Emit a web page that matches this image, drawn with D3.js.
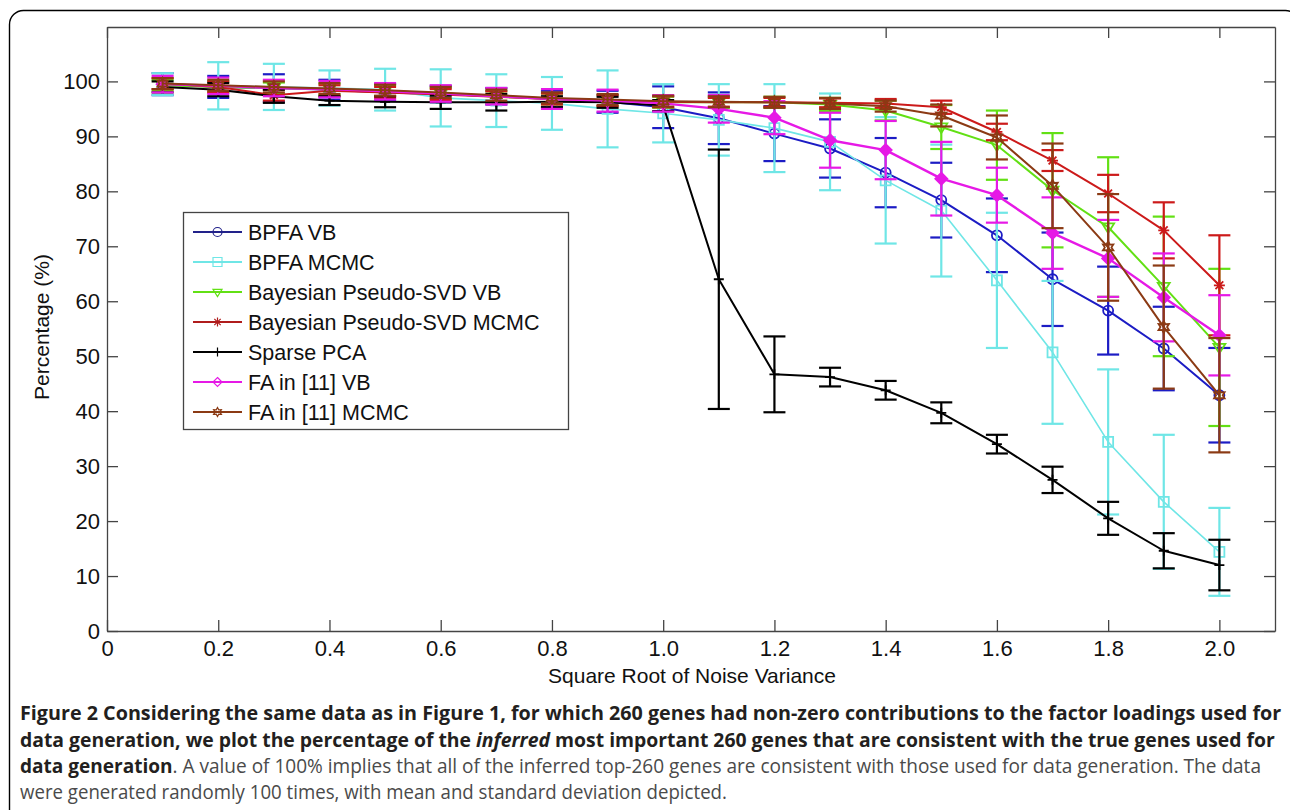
<!DOCTYPE html>
<html>
<head>
<meta charset="utf-8">
<script src="https://cdn.jsdelivr.net/npm/d3@7"></script>
<style>
  html, body { margin: 0; padding: 0; background: #fff; }
  svg { display: block; }
</style>
</head>
<body>
<svg id="chart" width="1290" height="810"></svg>
<script>
// ---------------- DATA ----------------
const noise = [0.1,0.2,0.3,0.4,0.5,0.6,0.7,0.8,0.9,1.0,1.1,1.2,1.3,1.4,1.5,1.6,1.7,1.8,1.9,2.0];

const bpfaVB      = [99.5,99.0,98.8,98.5,98.0,97.7,97.3,96.8,96.3,95.3,93.3,90.5,87.8,83.4,78.4,72.0,64.0,58.3,51.4,42.9];
const bpfaVBsd    = [2.0,2.0,2.5,1.8,1.5,1.5,1.5,1.5,2.0,3.8,4.7,5.0,5.3,6.3,6.8,6.7,8.5,8.0,7.6,8.6];

const bpfaMCMC    = [99.5,99.2,99.0,98.8,98.5,97.0,96.5,96.0,95.0,94.2,93.0,91.5,89.0,82.0,76.5,63.8,50.7,34.4,23.5,14.4];
const bpfaMCMCsd  = [2.0,4.3,4.2,3.2,3.8,5.2,4.8,4.8,7.0,5.3,6.5,8.0,8.8,11.5,12.0,12.3,13.0,13.2,12.2,8.0];

const psvdVB      = [99.3,99.0,98.8,98.6,98.3,97.8,97.2,96.8,96.5,96.2,96.2,96.2,95.8,94.7,91.7,88.4,80.2,73.5,62.7,51.6];
const psvdVBsd    = [1.0,1.0,1.0,1.0,1.0,1.0,1.0,1.0,1.0,1.0,1.0,1.0,1.2,1.8,4.0,6.3,10.4,12.7,12.7,14.3];

const psvdMCMC    = [99.6,99.0,97.5,98.3,98.0,97.6,97.2,96.8,96.5,96.3,96.2,96.2,96.1,96.0,95.3,90.8,85.6,79.6,72.9,62.9];
const psvdMCMCsd  = [1.0,1.0,1.0,1.0,1.0,1.0,1.0,1.0,1.0,1.0,0.8,0.8,0.8,0.8,1.2,1.5,1.9,3.4,5.1,9.1];

const sparsePCA   = [99.0,98.5,97.3,96.5,96.3,96.2,96.2,96.3,96.2,95.6,64.0,46.7,46.2,43.8,39.7,34.0,27.5,20.5,14.6,12.0];
const sparsePCAsd = [1.0,1.2,1.2,0.8,1.0,1.2,1.5,1.0,1.0,1.0,23.6,6.9,1.7,1.7,1.9,1.7,2.4,3.0,3.2,4.6];

const faVB        = [99.5,99.2,98.8,98.6,98.2,97.8,97.3,96.8,96.5,96.0,95.0,93.4,89.3,87.5,82.3,79.3,72.4,67.8,60.7,53.8];
const faVBsd      = [1.5,1.5,1.5,1.5,1.5,1.5,1.5,1.8,2.0,1.5,2.5,3.0,5.0,5.3,6.7,5.0,6.5,7.0,8.0,7.3];

const faMCMC      = [99.6,99.3,99.0,98.7,98.4,98.0,97.5,97.0,96.7,96.4,96.3,96.2,96.0,95.5,93.8,89.8,81.0,69.8,55.3,42.9];
const faMCMCsd    = [1.0,1.0,1.0,1.0,1.0,1.0,1.0,1.0,1.0,1.0,1.0,1.0,1.0,1.0,2.0,4.0,7.7,9.7,11.2,10.4];

const seriesNames = ["BPFA VB","BPFA MCMC","Bayesian Pseudo-SVD VB","Bayesian Pseudo-SVD MCMC","Sparse PCA","FA in [11] VB","FA in [11] MCMC"];
const xTicks = [0,0.2,0.4,0.6,0.8,1.0,1.2,1.4,1.6,1.8,2.0];
const yTicks = [0,10,20,30,40,50,60,70,80,90,100];
const xLabel = "Square Root of Noise Variance";
const yLabel = "Percentage (%)";

// ---------------- STYLE ----------------
const styles = [
  {color:"#1c1cc4", marker:"circle",   width:2},
  {color:"#6fe6e6", marker:"square",   width:1.6},
  {color:"#62e014", marker:"tridown",  width:2},
  {color:"#cc1a1a", marker:"asterisk", width:2},
  {color:"#000000", marker:"plus",     width:2},
  {color:"#e619e6", marker:"diamond",  width:2.4},
  {color:"#8b3a14", marker:"hexagram", width:2}
];
const means = [bpfaVB,bpfaMCMC,psvdVB,psvdMCMC,sparsePCA,faVB,faMCMC];
const sds   = [bpfaVBsd,bpfaMCMCsd,psvdVBsd,psvdMCMCsd,sparsePCAsd,faVBsd,faMCMCsd];
const series = seriesNames.map((n,i)=>({name:n, mean:means[i], sd:sds[i], ...styles[i]}));

const svg = d3.select("#chart");
const W = 1290, H = 810;
const L = 107, R = 1275, T = 27, B = 631;

// outer frame (rounded)
svg.append("rect").attr("x",9.5).attr("y",10.5).attr("width",1290).attr("height",900)
  .attr("rx",14).attr("fill","none").attr("stroke","#000").attr("stroke-width",1.4);

const x = d3.scaleLinear().domain([0,2.1]).range([L,R]);
const y = d3.scaleLinear().domain([0,109.9]).range([B,T]);

const axisColor = "#444";
const tickFont = "Liberation Sans, Arial, sans-serif";

function styleAxis(g){
  g.selectAll("path.domain").attr("stroke",axisColor).attr("stroke-width",1.3);
  g.selectAll(".tick line").attr("stroke",axisColor).attr("stroke-width",1.3);
  g.selectAll(".tick text").attr("fill","#111").style("font-family",tickFont).style("font-size","22px");
}

const fmtX = d => d===0 ? "0" : d.toFixed(1);

svg.append("g").attr("transform",`translate(0,${B})`)
  .call(d3.axisBottom(x).tickValues(xTicks).tickFormat(fmtX).tickSizeInner(-11).tickSizeOuter(0).tickPadding(9))
  .call(styleAxis);
svg.append("g").attr("transform",`translate(0,${T})`)
  .call(d3.axisTop(x).tickValues(xTicks).tickFormat("").tickSizeInner(-11).tickSizeOuter(0))
  .call(styleAxis);
svg.append("g").attr("transform",`translate(${L},0)`)
  .call(d3.axisLeft(y).tickValues(yTicks).tickFormat(d3.format("d")).tickSizeInner(-11).tickSizeOuter(0).tickPadding(7))
  .call(styleAxis);
svg.append("g").attr("transform",`translate(${R},0)`)
  .call(d3.axisRight(y).tickValues(yTicks).tickFormat("").tickSizeInner(-11).tickSizeOuter(0))
  .call(styleAxis);

// axis labels
svg.append("text").attr("x",(x(0)+x(2.1))/2 + 1).attr("y",683)
  .attr("text-anchor","middle").style("font-family",tickFont).style("font-size","21px").attr("fill","#111")
  .text(xLabel);
svg.append("text").attr("transform","translate(49,327) rotate(-90)")
  .attr("text-anchor","middle").style("font-family",tickFont).style("font-size","21px").attr("fill","#111")
  .text(yLabel);

// marker paths
function markerPath(type, s){
  const k = 0.7071*s;
  switch(type){
    case "circle": return `M${s},0A${s},${s} 0 1,1 ${-s},0A${s},${s} 0 1,1 ${s},0Z`;
    case "square": return `M${-s},${-s}H${s}V${s}H${-s}Z`;
    case "tridown": return `M${-s},${-0.6*s}L${s},${-0.6*s}L0,${s}Z`;
    case "asterisk": return `M${-s},0H${s}M0,${-s}V${s}M${-k},${-k}L${k},${k}M${-k},${k}L${k},${-k}`;
    case "plus": return `M${-s},0H${s}M0,${-s}V${s}`;
    case "diamond": return `M0,${-s}L${s},0L0,${s}L${-s},0Z`;
    case "hexagram": {
      const pts = [];
      for (let i=0;i<12;i++){
        const a = -Math.PI/2 + i*Math.PI/6;
        const r = i%2===0 ? s : s*0.55;
        pts.push([r*Math.cos(a), r*Math.sin(a)]);
      }
      return "M" + pts.map(p=>p[0].toFixed(2)+","+p[1].toFixed(2)).join("L") + "Z";
    }
  }
}
const markerSize = {circle:5, square:5, tridown:6, asterisk:5.5, plus:5, diamond:6, hexagram:6};

const plot = svg.append("g");
const cap = 11;
series.forEach(s => {
  const g = plot.append("g");
  const pts = noise.map((n,i)=>({x:n, m:s.mean[i], sd:s.sd[i]}));
  // error bars
  const eb = g.selectAll("g.eb").data(pts).enter().append("g")
    .attr("stroke",s.color).attr("stroke-width",2.2).attr("fill","none");
  eb.append("line").attr("x1",d=>x(d.x)).attr("x2",d=>x(d.x)).attr("y1",d=>y(d.m+d.sd)).attr("y2",d=>y(d.m-d.sd));
  eb.append("line").attr("x1",d=>x(d.x)-cap).attr("x2",d=>x(d.x)+cap).attr("y1",d=>y(d.m+d.sd)).attr("y2",d=>y(d.m+d.sd));
  eb.append("line").attr("x1",d=>x(d.x)-cap).attr("x2",d=>x(d.x)+cap).attr("y1",d=>y(d.m-d.sd)).attr("y2",d=>y(d.m-d.sd));
  // line
  g.append("path").datum(pts)
    .attr("d", d3.line().x(d=>x(d.x)).y(d=>y(d.m)))
    .attr("fill","none").attr("stroke",s.color).attr("stroke-width",s.width).attr("stroke-linejoin","round");
  // markers
  g.selectAll("path.mk").data(pts).enter().append("path")
    .attr("transform",d=>`translate(${x(d.x)},${y(d.m)})`)
    .attr("d", markerPath(s.marker, markerSize[s.marker]))
    .attr("fill", s.marker==="diamond" ? s.color : "none")
    .attr("stroke", s.color).attr("stroke-width", 1.8);
});

// legend
const lg = svg.append("g");
lg.append("rect").attr("x",183.5).attr("y",212.5).attr("width",385).attr("height",217)
  .attr("fill","#fff").attr("stroke","#444").attr("stroke-width",1.3);
const legendColors = ["#22228a","#6fe6e6","#62e014","#b01c1c","#000000","#e619e6","#8b3a14"];
series.forEach((s,i) => {
  const yy = 232 + i*30;
  lg.append("line").attr("x1",193).attr("x2",242).attr("y1",yy).attr("y2",yy)
    .attr("stroke",legendColors[i]).attr("stroke-width",2.2);
  lg.append("path").attr("transform",`translate(217.5,${yy})`)
    .attr("d", markerPath(s.marker, 4.5))
    .attr("fill", "none").attr("stroke", legendColors[i]).attr("stroke-width",1.2);
  lg.append("text").attr("x",248).attr("y",yy).attr("dy","0.36em")
    .style("font-family",tickFont).style("font-size","21.5px").attr("fill","#111").text(s.name);
});

// caption
const capFont = "'Open Sans', 'Noto Sans', sans-serif";
const captionLines = [
  {y:720, w:1262, parts:[{t:"Figure 2 Considering the same data as in Figure 1, for which 260 genes had non-zero contributions to the factor loadings used for", b:true}]},
  {y:746.5, w:1256, parts:[{t:"data generation, we plot the percentage of the ", b:true},{t:"inferred", b:true, i:true},{t:" most important 260 genes that are consistent with the true genes used for", b:true}]},
  {y:773, w:1242, parts:[{t:"data generation", b:true},{t:". A value of 100% implies that all of the inferred top-260 genes are consistent with those used for data generation. The data", b:false}]},
  {y:799, w:707, parts:[{t:"were generated randomly 100 times, with mean and standard deviation depicted.", b:false}]}
];
captionLines.forEach(line => {
  const t = svg.append("text").attr("x",0).attr("y",0)
    .style("font-family",capFont).style("font-size","20px").attr("xml:space","preserve");
  line.parts.forEach(p => {
    t.append("tspan").text(p.t)
      .style("font-weight", p.b ? 700 : 400)
      .style("font-style", p.i ? "italic" : "normal")
      .attr("fill", p.b ? "#231f20" : "#4a4a4a");
  });
  const wNat = t.node().getComputedTextLength();
  const sx = line.w / wNat;
  t.attr("transform",`translate(20,${line.y}) scale(${sx},1)`);
});
</script>
</body>
</html>
